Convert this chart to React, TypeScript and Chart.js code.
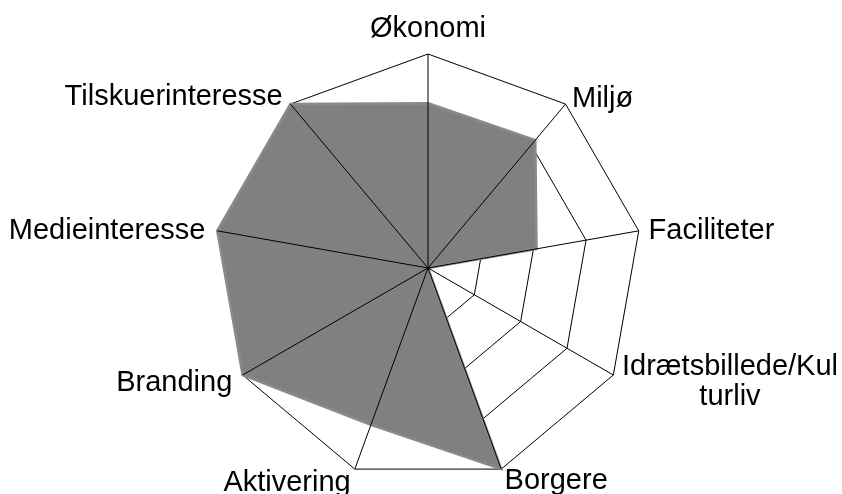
import React, { useEffect, useRef } from "react";
import { Chart, registerables } from "chart.js";

Chart.register(...registerables);

const categories: (string | string[])[] = [
  "Økonomi",
  "Miljø",
  "Faciliteter",
  ["Idrætsbillede/Kul", "turliv"],
  "Borgere",
  "Aktivering",
  "Branding",
  "Medieinteresse",
  "Tilskuerinteresse",
];
const values: number[] = [3.08, 3.12, 2.06, 0, 4, 3.12, 4, 4, 4];
const scaleMin = 0;
const scaleMax = 4;
const scaleStep = 1;

const FONT_SIZE = 29;
const FONT = `${FONT_SIZE}px "Liberation Sans", Arial, sans-serif`;

const angleLinesOnTop = {
  id: "angleLinesOnTop",
  afterDatasetsDraw(chart: any) {
    const s = chart.scales.r;
    const ctx = chart.ctx;
    ctx.save();
    ctx.strokeStyle = "#000";
    ctx.lineWidth = 1;
    ctx.beginPath();
    for (let i = 0; i < chart.data.labels.length; i++) {
      const p = s.getPointPositionForValue(i, s.max);
      ctx.moveTo(s.xCenter, s.yCenter);
      ctx.lineTo(p.x, p.y);
    }
    ctx.stroke();
    ctx.restore();
  },
};

const customLabels = {
  id: "customLabels",
  afterDraw(chart: any) {
    const s = chart.scales.r;
    const ctx = chart.ctx;
    const labels = chart.data.labels;
    const n = labels.length;
    const R = s.drawingArea;
    const capH = FONT_SIZE * 0.716;
    const lineH = 30;
    ctx.save();
    ctx.font = FONT;
    ctx.fillStyle = "#000";
    ctx.textBaseline = "alphabetic";
    for (let i = 0; i < n; i++) {
      const lab = labels[i];
      const lines: string[] = Array.isArray(lab) ? lab : [lab];
      const ang = (i * 2 * Math.PI) / n;
      const sn = Math.sin(ang);
      const cs = Math.cos(ang);
      if (Math.abs(sn) < 0.05 && cs > 0) {
        const p = s.getPointPosition(i, R);
        ctx.textAlign = "center";
        ctx.fillText(lines[0], p.x, p.y - 17);
        continue;
      }
      const pad = sn < -0.05 ? 12 : 10;
      const p = s.getPointPosition(i, R + pad);
      const widths = lines.map((l) => ctx.measureText(l).width);
      const maxW = Math.max(...widths);
      let left: number;
      if (sn > 0.05) left = p.x;
      else if (sn < -0.05) left = p.x - maxW;
      else left = p.x - maxW / 2;
      ctx.textAlign = "center";
      lines.forEach((l, k) => {
        const by = p.y + capH / 2 + (k - (lines.length - 1) / 2) * lineH;
        ctx.fillText(l, left + maxW / 2, by);
      });
    }
    ctx.restore();
  },
};

export default function App() {
  const ref = useRef<HTMLCanvasElement | null>(null);
  useEffect(() => {
    document.body.style.margin = "0";
    const c = ref.current;
    if (!c) return;
    const chart = new Chart(c, {
      type: "radar",
      data: {
        labels: categories as any,
        datasets: [
          {
            data: values,
            backgroundColor: "#808080",
            borderColor: "#8a8a8a",
            borderWidth: 2.5,
            pointRadius: 0,
            pointHoverRadius: 0,
            fill: true,
          },
        ],
      },
      options: {
        responsive: false,
        animation: false,
        layout: { padding: { left: 214, right: 200, top: 54, bottom: 12 } },
        plugins: { legend: { display: false }, tooltip: { enabled: false } },
        scales: {
          r: {
            min: scaleMin,
            max: scaleMax,
            ticks: { display: false, stepSize: scaleStep },
            grid: { color: "#000", lineWidth: 1 },
            angleLines: { display: false },
            pointLabels: { display: false },
          },
        },
      },
      plugins: [angleLinesOnTop, customLabels],
    });
    return () => chart.destroy();
  }, []);
  return (
    <div style={{ position: "absolute", left: 0, top: 0, width: 842, height: 494, background: "#fff" }}>
      <canvas ref={ref} width={842} height={494} style={{ display: "block" }} />
    </div>
  );
}
